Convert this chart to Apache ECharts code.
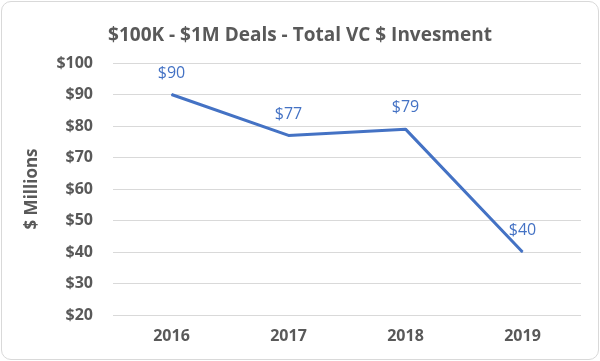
<!DOCTYPE html>
<html><head><meta charset="utf-8">
<script src="https://cdn.jsdelivr.net/npm/echarts@6/dist/echarts.min.js"></script>
<style>
html,body{margin:0;padding:0;background:#fff;}
#c{position:absolute;left:1px;top:1px;width:596px;height:357px;border:1px solid #d9d9d9;border-radius:10px;box-sizing:content-box;}
</style></head>
<body><div id="c"></div>
<script>
const categories = ['2016','2017','2018','2019'];
const values = [90, 77, 79, 40];
const yTicks = {min:20, max:100, interval:10};
const titleText = '$100K - $1M Deals - Total VC $ Invesment';
const yName = '$ Millions';

const chart = echarts.init(document.getElementById('c'), null, {renderer:'canvas'});
const font = 'Open Sans, Liberation Sans, sans-serif';
chart.setOption({
  animation:false,
  textStyle:{fontFamily:font},
  title:{text:titleText,left:'center',top:19,textStyle:{fontSize:19,fontWeight:'bold',color:'#595959',fontFamily:font}},
  grid:{left:111,right:17,top:61,bottom:44,containLabel:false},
  xAxis:{type:'category',data:categories,boundaryGap:true,
    axisLine:{show:false},axisTick:{show:false},
    axisLabel:{color:'#595959',fontSize:16,fontWeight:'bold',margin:13}},
  yAxis:{type:'value',min:yTicks.min,max:yTicks.max,interval:yTicks.interval,
    name:yName,nameLocation:'middle',nameGap:72,nameRotate:90,
    nameTextStyle:{color:'#595959',fontSize:17,fontWeight:'bold'},
    axisLine:{show:false},axisTick:{show:false},
    splitLine:{lineStyle:{color:'#d9d9d9',width:1}},
    axisLabel:{color:'#595959',fontSize:16,fontWeight:'bold',margin:20,formatter:v=>'$'+v}},
  series:[{type:'line',data:values,symbol:'circle',symbolSize:1,showSymbol:true,
    lineStyle:{color:'#4472C4',width:3},itemStyle:{color:'#4472C4'},
    label:{show:true,position:'top',distance:13,color:'#4472C4',fontSize:16,fontFamily:font,formatter:p=>'$'+p.value}}]
});
</script></body></html>
